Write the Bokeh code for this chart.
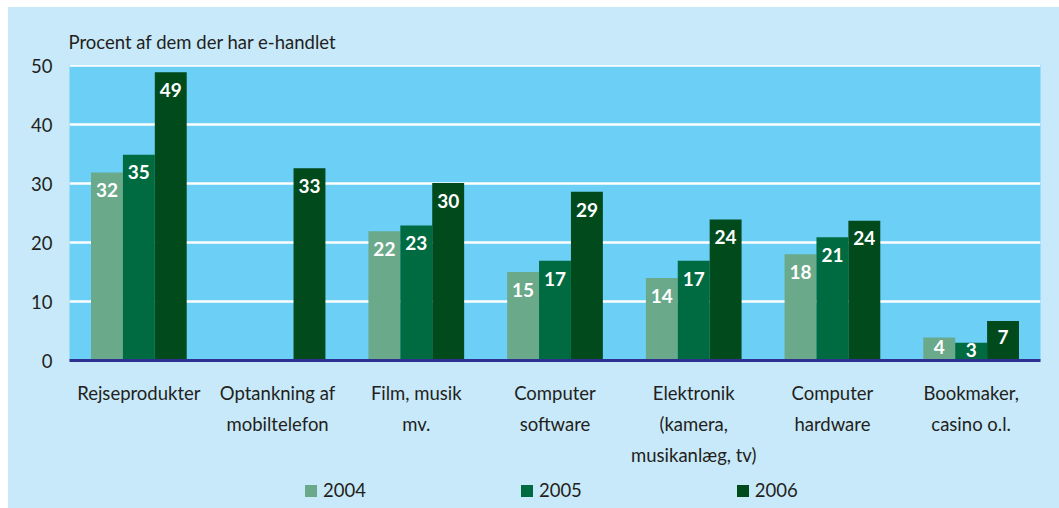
import numpy as np
from bokeh.plotting import figure
from bokeh.models import ColumnDataSource, Legend, LegendItem, FactorRange, Spacer
from bokeh.layouts import row, column
from bokeh.transform import dodge
from bokeh.core.properties import value
from bokeh.embed import file_html
from bokeh.resources import INLINE

categories = ["Rejseprodukter", "Optankning af\nmobiltelefon", "Film, musik\nmv.",
              "Computer\nsoftware", "Elektronik\n(kamera,\nmusikanlæg, tv)",
              "Computer\nhardware", "Bookmaker,\ncasino o.l."]
years = ["2004", "2005", "2006"]
v2004 = [31.9, np.nan, 21.9, 15.0, 14.0, 18.0, 3.9]
v2005 = [34.9, np.nan, 22.9, 16.9, 16.9, 20.9, 3.0]
v2006 = [48.9, 32.6, 30.1, 28.6, 23.9, 23.7, 6.7]
y_ticks = [0, 10, 20, 30, 40, 50]
y_title = "Procent af dem der har e-handlet"

colors = ["#6aa98a", "#006a40", "#004a1c"]
FONT = "Lato"
TXT = "#231f20"
OUTER = "#c8e9f9"

p = figure(x_range=FactorRange(*categories, range_padding=0), y_range=(0, 50.2),
           width=1051, height=468, output_backend="svg", toolbar_location=None,
           min_border_left=61, min_border_right=19, min_border_top=57, min_border_bottom=115)
p.background_fill_color = "#6ccff6"
p.border_fill_color = OUTER
p.outline_line_color = None

src = ColumnDataSource(dict(cat=categories, y2004=v2004, y2005=v2005, y2006=v2006))
offsets = [-0.23, 0.0, 0.23]
for yr, col, off in zip(years, colors, offsets):
    p.vbar(x=dodge("cat", off, range=p.x_range), top="y" + yr, width=0.23,
           source=src, fill_color=col, line_color=None)

# value labels inside the bars
for vals, off in zip([v2004, v2005, v2006], offsets):
    cs, ys, ts = [], [], []
    for c, v in zip(categories, vals):
        if np.isnan(v):
            continue
        cs.append(c)
        ys.append(max(v - 3.0, 0.6 * v))
        ts.append(str(int(round(v))))
    s = ColumnDataSource(dict(cat=cs, y=ys, t=ts))
    p.text(x=dodge("cat", off, range=p.x_range), y="y", text="t", source=s,
           text_color="white", text_font=value(FONT), text_font_style="bold",
           text_font_size="19px", text_align="center", text_baseline="middle")

p.xgrid.grid_line_color = None
p.ygrid.grid_line_color = "white"
p.ygrid.grid_line_width = 2.5
p.ygrid.ticker = y_ticks

p.yaxis.ticker = y_ticks
p.yaxis.axis_line_color = None
p.yaxis.major_tick_line_color = None
p.yaxis.minor_tick_line_color = None
p.yaxis.major_tick_out = 0
p.yaxis.minor_tick_out = 0
p.yaxis.major_label_text_font = FONT
p.yaxis.major_label_text_font_size = "18.5px"
p.yaxis.major_label_text_color = TXT
p.yaxis.major_label_standoff = 17

p.xaxis.axis_line_color = "#2e3192"
p.xaxis.axis_line_width = 3
p.xaxis.major_tick_line_color = None
p.xaxis.minor_tick_line_color = None
p.xaxis.major_tick_out = 0
p.xaxis.minor_tick_out = 0
p.xaxis.major_label_text_font = FONT
p.xaxis.major_label_text_font_size = "18.5px"
p.xaxis.major_label_text_color = TXT
p.xaxis.major_label_text_line_height = 1.42
p.xaxis.major_label_standoff = 21
p.xaxis.major_label_orientation = "horizontal"

p.title.text = y_title
p.title.text_font = FONT
p.title.text_font_size = "18.5px"
p.title.text_font_style = "normal"
p.title.text_color = TXT
p.title.align = "left"
p.title.offset = -1
p.title.standoff = 23

# legend strip below the chart (zero-height swatch renderers feed the legend)
lg = figure(width=1051, height=33, output_backend="svg", toolbar_location=None,
            x_range=(0, 1), y_range=(0, 1), x_axis_type=None, y_axis_type=None,
            min_border_left=0, min_border_right=0, min_border_top=0, min_border_bottom=0)
lg.grid.visible = False
lg.outline_line_color = None
lg.background_fill_color = None
lg.border_fill_color = None
lrs = [lg.vbar(x=[0.5], top=[0], bottom=[0], width=0.1, fill_color=col, line_color=None)
       for col in colors]
legend = Legend(items=[LegendItem(label=yr, renderers=[r]) for yr, r in zip(years, lrs)],
                orientation="horizontal", location=(234, 7),
                glyph_width=15, glyph_height=15, label_standoff=5, spacing=153,
                padding=0, margin=0, border_line_color=None, background_fill_alpha=0,
                label_text_font=FONT, label_text_font_size="18.5px", label_text_color=TXT)
lg.add_layout(legend, "center")

inner = column(p, lg, styles={"background-color": OUTER})
layout = column(Spacer(height=7), row(Spacer(width=8), inner))
open("out.html", "w").write(file_html(layout, INLINE))
